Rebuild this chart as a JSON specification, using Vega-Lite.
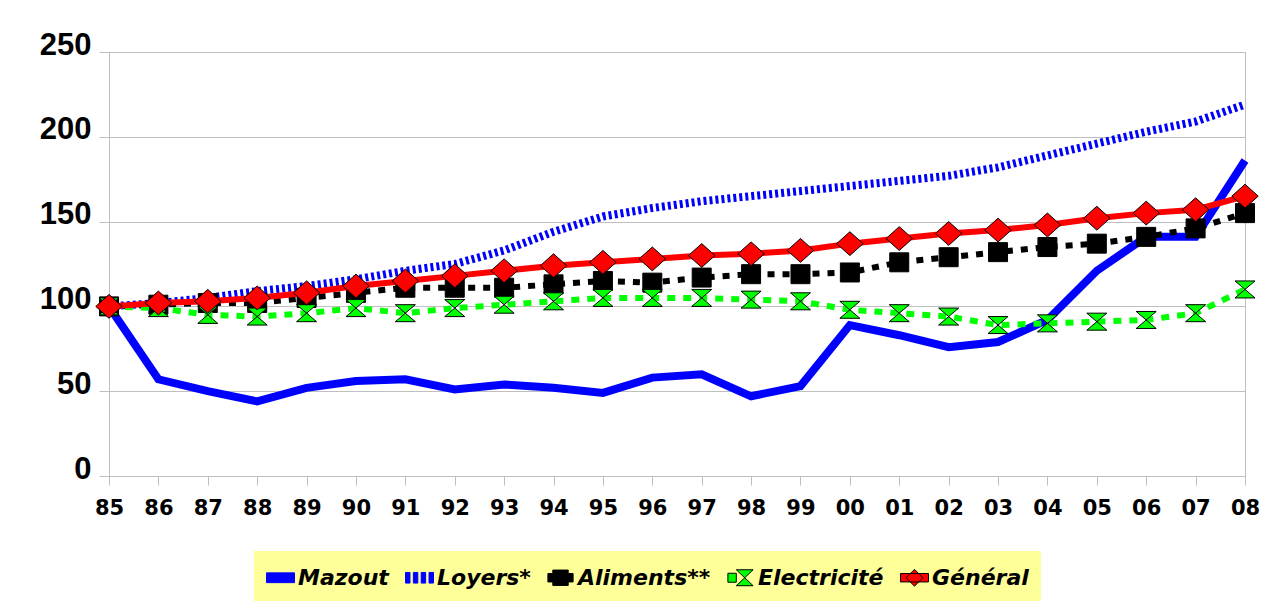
{
  "$schema": "https://vega.github.io/schema/vega-lite/v6.json",
  "width": 1136,
  "height": 424,
  "autosize": "none",
  "padding": {"left": 109, "top": 52, "right": 36, "bottom": 134},
  "background": "white",
  "data": {"values": [
    {"year":"85","series":"Mazout","value":100},{"year":"86","series":"Mazout","value":57},{"year":"87","series":"Mazout","value":50},{"year":"88","series":"Mazout","value":44},{"year":"89","series":"Mazout","value":52},{"year":"90","series":"Mazout","value":56},{"year":"91","series":"Mazout","value":57},{"year":"92","series":"Mazout","value":51},{"year":"93","series":"Mazout","value":54},{"year":"94","series":"Mazout","value":52},{"year":"95","series":"Mazout","value":49},{"year":"96","series":"Mazout","value":58},{"year":"97","series":"Mazout","value":60},{"year":"98","series":"Mazout","value":47},{"year":"99","series":"Mazout","value":53},{"year":"00","series":"Mazout","value":89},{"year":"01","series":"Mazout","value":83},{"year":"02","series":"Mazout","value":76},{"year":"03","series":"Mazout","value":79},{"year":"04","series":"Mazout","value":92},{"year":"05","series":"Mazout","value":121},{"year":"06","series":"Mazout","value":141},{"year":"07","series":"Mazout","value":141},{"year":"08","series":"Mazout","value":186},
    {"year":"85","series":"Loyers*","value":100},{"year":"86","series":"Loyers*","value":102},{"year":"87","series":"Loyers*","value":105},{"year":"88","series":"Loyers*","value":109},{"year":"89","series":"Loyers*","value":112},{"year":"90","series":"Loyers*","value":116},{"year":"91","series":"Loyers*","value":121},{"year":"92","series":"Loyers*","value":125},{"year":"93","series":"Loyers*","value":133},{"year":"94","series":"Loyers*","value":144},{"year":"95","series":"Loyers*","value":153},{"year":"96","series":"Loyers*","value":158},{"year":"97","series":"Loyers*","value":162},{"year":"98","series":"Loyers*","value":165},{"year":"99","series":"Loyers*","value":168},{"year":"00","series":"Loyers*","value":171},{"year":"01","series":"Loyers*","value":174},{"year":"02","series":"Loyers*","value":177},{"year":"03","series":"Loyers*","value":182},{"year":"04","series":"Loyers*","value":189},{"year":"05","series":"Loyers*","value":196},{"year":"06","series":"Loyers*","value":203},{"year":"07","series":"Loyers*","value":209},{"year":"08","series":"Loyers*","value":219},
    {"year":"85","series":"Aliments**","value":100},{"year":"86","series":"Aliments**","value":101},{"year":"87","series":"Aliments**","value":102},{"year":"88","series":"Aliments**","value":102},{"year":"89","series":"Aliments**","value":105},{"year":"90","series":"Aliments**","value":108},{"year":"91","series":"Aliments**","value":111},{"year":"92","series":"Aliments**","value":111},{"year":"93","series":"Aliments**","value":111},{"year":"94","series":"Aliments**","value":113},{"year":"95","series":"Aliments**","value":115},{"year":"96","series":"Aliments**","value":114},{"year":"97","series":"Aliments**","value":117},{"year":"98","series":"Aliments**","value":119},{"year":"99","series":"Aliments**","value":119},{"year":"00","series":"Aliments**","value":120},{"year":"01","series":"Aliments**","value":126},{"year":"02","series":"Aliments**","value":129},{"year":"03","series":"Aliments**","value":132},{"year":"04","series":"Aliments**","value":135},{"year":"05","series":"Aliments**","value":137},{"year":"06","series":"Aliments**","value":141},{"year":"07","series":"Aliments**","value":146},{"year":"08","series":"Aliments**","value":155},
    {"year":"85","series":"Electricité","value":100},{"year":"86","series":"Electricité","value":99},{"year":"87","series":"Electricité","value":95},{"year":"88","series":"Electricité","value":94},{"year":"89","series":"Electricité","value":96},{"year":"90","series":"Electricité","value":99},{"year":"91","series":"Electricité","value":96},{"year":"92","series":"Electricité","value":99},{"year":"93","series":"Electricité","value":101},{"year":"94","series":"Electricité","value":103},{"year":"95","series":"Electricité","value":105},{"year":"96","series":"Electricité","value":105},{"year":"97","series":"Electricité","value":105},{"year":"98","series":"Electricité","value":104},{"year":"99","series":"Electricité","value":103},{"year":"00","series":"Electricité","value":98},{"year":"01","series":"Electricité","value":96},{"year":"02","series":"Electricité","value":94},{"year":"03","series":"Electricité","value":89},{"year":"04","series":"Electricité","value":90},{"year":"05","series":"Electricité","value":91},{"year":"06","series":"Electricité","value":92},{"year":"07","series":"Electricité","value":96},{"year":"08","series":"Electricité","value":110},
    {"year":"85","series":"Général","value":100},{"year":"86","series":"Général","value":102},{"year":"87","series":"Général","value":103},{"year":"88","series":"Général","value":105},{"year":"89","series":"Général","value":108},{"year":"90","series":"Général","value":112},{"year":"91","series":"Général","value":115},{"year":"92","series":"Général","value":118},{"year":"93","series":"Général","value":121},{"year":"94","series":"Général","value":124},{"year":"95","series":"Général","value":126},{"year":"96","series":"Général","value":128},{"year":"97","series":"Général","value":130},{"year":"98","series":"Général","value":131},{"year":"99","series":"Général","value":133},{"year":"00","series":"Général","value":137},{"year":"01","series":"Général","value":140},{"year":"02","series":"Général","value":143},{"year":"03","series":"Général","value":145},{"year":"04","series":"Général","value":148},{"year":"05","series":"Général","value":152},{"year":"06","series":"Général","value":155},{"year":"07","series":"Général","value":157},{"year":"08","series":"Général","value":165}
  ]},
  "encoding": {
    "x": {
      "field": "year", "type": "ordinal",
      "scale": {"type": "point", "padding": 0, "domain": ["85","86","87","88","89","90","91","92","93","94","95","96","97","98","99","00","01","02","03","04","05","06","07","08"]},
      "axis": {"title": null, "labelAngle": 0, "labelFont": "DejaVu Sans", "labelFontWeight": "bold", "labelFontSize": 21, "labelColor": "black", "tickSize": 9, "labelPadding": 12, "tickColor": "#BFBFBF", "domainColor": "#BFBFBF", "grid": false}
    },
    "y": {
      "field": "value", "type": "quantitative",
      "scale": {"domain": [0, 250], "nice": false},
      "axis": {"title": null, "values": [0,50,100,150,200,250], "labelFont": "Liberation Sans", "labelFontWeight": "bold", "labelFontSize": 31, "labelColor": "black", "labelPadding": 8, "tickSize": 10, "labelOffset": -7, "tickColor": "#BFBFBF", "domainColor": "#BFBFBF", "grid": true, "gridColor": "#BFBFBF"}
    }
  },
  "layer": [
    {"transform": [{"filter": "datum.series == 'Mazout'"}], "mark": {"type": "line", "color": "#0000FF", "strokeWidth": 8}},
    {"transform": [{"filter": "datum.series == 'Loyers*'"}], "mark": {"type": "line", "color": "#0000FF", "strokeWidth": 8, "strokeDash": [3, 3]}},
    {"transform": [{"filter": "datum.series == 'Aliments**'"}], "mark": {"type": "line", "color": "#000000", "strokeWidth": 6, "strokeDash": [7, 8]}},
    {"transform": [{"filter": "datum.series == 'Aliments**'"}], "mark": {"type": "point", "shape": "square", "size": 361, "filled": true, "fill": "#000000", "stroke": "#000000", "strokeWidth": 1, "opacity": 1}},
    {"transform": [{"filter": "datum.series == 'Electricité'"}], "mark": {"type": "line", "color": "#00FF00", "strokeWidth": 6, "strokeDash": [8, 8]}},
    {"transform": [{"filter": "datum.series == 'Electricité'"}], "mark": {"type": "point", "shape": "M-1,-0.85L1,-0.85L-1,0.85L1,0.85Z", "size": 400, "filled": true, "fill": "#00FF00", "stroke": "#000000", "strokeWidth": 1, "opacity": 1}},
    {"transform": [{"filter": "datum.series == 'Général'"}], "mark": {"type": "line", "color": "#FF0000", "strokeWidth": 6}},
    {"transform": [{"filter": "datum.series == 'Général'"}], "mark": {"type": "point", "shape": "M-1,0L0,-0.9L1,0L0,0.9Z", "size": 700, "filled": true, "fill": "#FF0000", "stroke": "#000000", "strokeWidth": 1, "opacity": 1}},
    {
      "transform": [{"filter": "datum.value < 0"}],
      "mark": {"type": "point", "filled": true, "opacity": 1, "strokeWidth": 1},
      "encoding": {
        "shape": {"field": "series", "type": "nominal", "title": null,
          "scale": {"domain": ["Mazout","Loyers*","Aliments**","Electricité","Général"],
            "range": [
              "M-1,-0.35L1,-0.35L1,0.35L-1,0.35Z",
              "M-1,-0.38L-0.68,-0.38L-0.68,0.38L-1,0.38Z M-0.44,-0.38L-0.12,-0.38L-0.12,0.38L-0.44,0.38Z M0.12,-0.38L0.44,-0.38L0.44,0.38L0.12,0.38Z M0.68,-0.38L1,-0.38L1,0.38L0.68,0.38Z",
              "M-0.9,-0.3L-0.55,-0.3L-0.55,-0.55L0.55,-0.55L0.55,-0.3L0.9,-0.3L0.9,0.3L0.55,0.3L0.55,0.55L-0.55,0.55L-0.55,0.3L-0.9,0.3Z",
              "M-0.9,-0.32L-0.3,-0.32L-0.3,0.32L-0.9,0.32Z M-0.3,-0.57L0.9,-0.57L-0.3,0.57L0.9,0.57Z",
              "M-1,-0.3L1,-0.3L1,0.3L-1,0.3Z M0,-0.6L0.6,0L0,0.6L-0.6,0Z"
            ]},
          "legend": {"orient": "none", "legendX": 145, "legendY": 499, "direction": "horizontal", "fillColor": "#FFFF99", "padding": 12, "symbolSize": 784, "symbolStrokeWidth": 1, "labelFont": "DejaVu Sans", "labelFontWeight": "bold", "labelFontStyle": "italic", "labelFontSize": 22, "labelColor": "black", "labelOffset": 3, "columnPadding": 14, "labelLimit": 300}
        },
        "fill": {"field": "series", "type": "nominal", "title": null,
          "scale": {"domain": ["Mazout","Loyers*","Aliments**","Electricité","Général"], "range": ["#0000FF","#0000FF","#000000","#00FF00","#FF0000"]},
          "legend": {"orient": "none", "legendX": 145, "legendY": 499, "direction": "horizontal", "fillColor": "#FFFF99", "padding": 12, "symbolSize": 784, "symbolStrokeWidth": 1, "labelFont": "DejaVu Sans", "labelFontWeight": "bold", "labelFontStyle": "italic", "labelFontSize": 22, "labelColor": "black", "labelOffset": 3, "columnPadding": 14, "labelLimit": 300}
        },
        "stroke": {"field": "series", "type": "nominal", "title": null,
          "scale": {"domain": ["Mazout","Loyers*","Aliments**","Electricité","Général"], "range": ["#0000FF","#0000FF","#000000","#000000","#000000"]},
          "legend": {"orient": "none", "legendX": 145, "legendY": 499, "direction": "horizontal", "fillColor": "#FFFF99", "padding": 12, "symbolSize": 784, "symbolStrokeWidth": 1, "labelFont": "DejaVu Sans", "labelFontWeight": "bold", "labelFontStyle": "italic", "labelFontSize": 22, "labelColor": "black", "labelOffset": 3, "columnPadding": 14, "labelLimit": 300}
        }
      }
    }
  ],
  "config": {
    "view": {"stroke": "#BFBFBF"}
  }
}
